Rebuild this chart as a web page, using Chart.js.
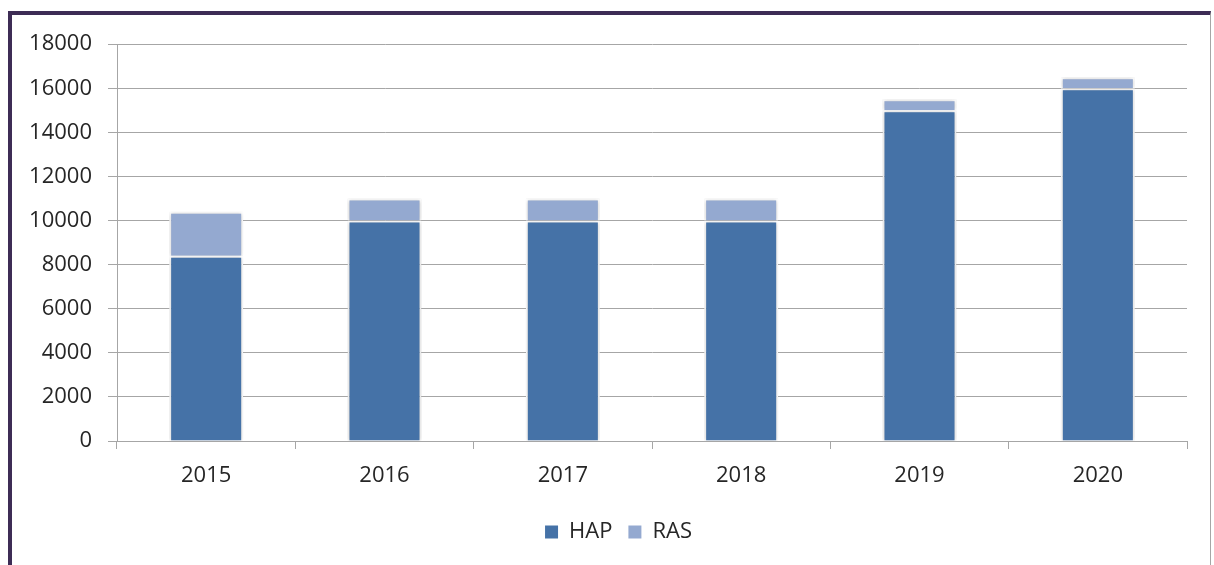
<!DOCTYPE html>
<html>
<head>
<meta charset="utf-8">
<script src="https://cdn.jsdelivr.net/npm/chart.js@4/dist/chart.umd.min.js"></script>
<style>
  html, body { margin: 0; padding: 0; background: #fff; }
  #frame {
    position: absolute; left: 8px; top: 11px;
    width: 1198px; height: 560px;
    border-left: 4px solid #3d2c55;
    border-top: 4px solid #3d2c55;
    border-right: 1px solid #a6a6a6;
  }
  #wrap { position: relative; width: 1198px; height: 550px; }
</style>
</head>
<body>
<div id="frame"><div id="wrap"><canvas id="mainChart"></canvas></div></div>
<script>
const years = ["2015", "2016", "2017", "2018", "2019", "2020"];
const hap = [8400, 10000, 10000, 10000, 15000, 16000];
const ras = [2000, 1000, 1000, 1000, 500, 500];

// soft grey shadow around the bars, like the office chart
const barShadow = {
  id: "barShadow",
  beforeDatasetsDraw(c) {
    c.ctx.save();
    c.ctx.shadowColor = "rgba(0,0,0,0.22)";
    c.ctx.shadowBlur = 4;
  },
  afterDatasetsDraw(c) {
    c.ctx.restore();
  }
};

// legend is centred on the whole frame, not on the plot
const legendShift = {
  id: "legendShift",
  afterLayout(c) {
    c.legend.left += 19;
    c.legend.right += 19;
  }
};

const font = { family: "'Open Sans', 'Noto Sans', sans-serif", size: 22 };

new Chart(document.getElementById("mainChart"), {
  type: "bar",
  data: {
    labels: years,
    datasets: [
      { label: "HAP", data: hap, backgroundColor: "#4572a7", borderColor: "#fff", borderWidth: 2 },
      { label: "RAS", data: ras, backgroundColor: "#94a9d0", borderColor: "#fff", borderWidth: 2 }
    ]
  },
  options: {
    responsive: true,
    maintainAspectRatio: false,
    animation: false,
    barPercentage: 0.415,
    categoryPercentage: 1,
    layout: { padding: { left: 0, right: 23, top: 28, bottom: 12 } },
    scales: {
      x: {
        stacked: true,
        afterFit: s => { s.height = 64; },
        grid: { drawOnChartArea: false, tickLength: 8, color: "#a6a6a6", offset: true },
        border: { color: "#a6a6a6" },
        ticks: { color: "#262626", font, padding: 14 }
      },
      y: {
        stacked: true,
        min: 0,
        max: 18000,
        afterFit: s => { s.width = 105; },
        ticks: { stepSize: 2000, color: "#262626", font, padding: 16, callback: v => String(v) },
        grid: { color: "#a6a6a6", tickLength: 9 },
        border: { color: "#a6a6a6" }
      }
    },
    plugins: {
      legend: {
        position: "bottom",
        labels: {
          font,
          color: "#262626",
          boxWidth: 13,
          boxHeight: 13,
          padding: 16,
          generateLabels: c => Chart.defaults.plugins.legend.labels.generateLabels(c)
            .map(l => ({ ...l, lineWidth: 0 }))
        }
      },
      tooltip: { enabled: false }
    }
  },
  plugins: [barShadow, legendShift]
});
</script>
</body>
</html>
